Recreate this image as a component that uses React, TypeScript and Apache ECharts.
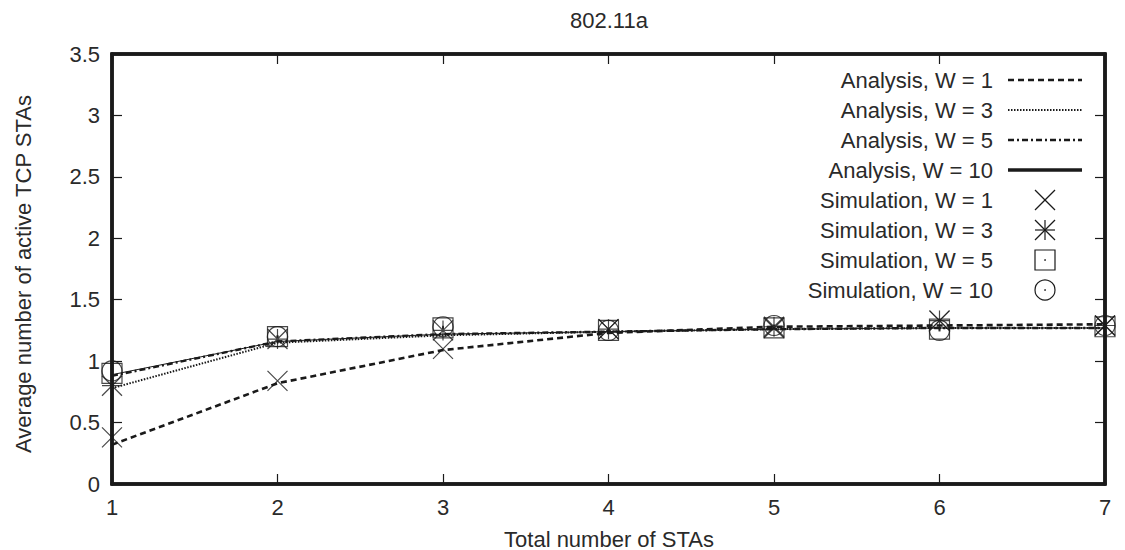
import React, { useEffect, useRef } from "react";
import * as echarts from "echarts";

const stations = [1, 2, 3, 4, 5, 6, 7];
const analysisW1 = [0.32, 0.82, 1.09, 1.23, 1.28, 1.29, 1.30];
const analysisW3 = [0.78, 1.15, 1.21, 1.24, 1.26, 1.27, 1.27];
const analysisW5 = [0.88, 1.16, 1.22, 1.24, 1.26, 1.27, 1.27];
const analysisW10 = [0.89, 1.16, 1.22, 1.24, 1.26, 1.27, 1.27];
const simW1 = [0.38, 0.84, 1.10, 1.26, 1.27, 1.33, 1.29];
const simW3 = [0.80, 1.18, 1.25, 1.26, 1.28, 1.33, 1.29];
const simW5 = [0.90, 1.20, 1.27, 1.25, 1.27, 1.26, 1.28];
const simW10 = [0.92, 1.20, 1.28, 1.25, 1.29, 1.25, 1.29];
const legendLabels = [
  "Analysis, W = 1",
  "Analysis, W = 3",
  "Analysis, W = 5",
  "Analysis, W = 10",
  "Simulation, W = 1",
  "Simulation, W = 3",
  "Simulation, W = 5",
  "Simulation, W = 10",
];

const INK = "#1a1a1a";
const TXT = "#2a2a2a";
const FONT = "Liberation Sans, Arial, sans-serif";
const FS = 22;

const X_PATH = "path://M0,0L10,10M10,0L0,10";
const STAR_PATH = "path://M0,0L10,10M10,0L0,10M5,0L5,10M0,5L10,5";
const SQUARE_PATH = "path://M0,0H10V10H0ZM4.8,4.8H5.2V5.2H4.8Z";
const CIRCLE_PATH = "path://M5,0A5,5,0,1,1,4.999,0ZM4.8,4.8H5.2V5.2H4.8Z";

const lineStyles = [
  { type: [6, 4], width: 2.6 },
  { type: [1.5, 1.5], width: 2 },
  { type: [6, 3, 2, 3], width: 2.4 },
  { type: "solid", width: 1 },
];

function toPts(arr: number[]) {
  return stations.map((x, i) => [x, arr[i]]);
}

function axLine() {
  return { show: true, onZero: false, lineStyle: { color: INK, width: 3.5 } };
}
function axTick() {
  return { show: true, inside: true, length: 10, lineStyle: { color: INK, width: 1.2 } };
}

export default function App() {
  const ref = useRef<HTMLDivElement>(null);
  useEffect(() => {
    if (!ref.current) return;
    const chart = echarts.init(ref.current, null, { renderer: "svg" });

    const L = 112, R = 1105, T = 54, B = 484;
    const legX = 993, lineX1 = 1008, lineX2 = 1082, mkX = 1045;
    const rows = [80, 110, 140, 170, 200, 230, 260, 290];

    const graphic: any[] = [];
    legendLabels.forEach((t, i) => {
      graphic.push({
        type: "text",
        x: legX,
        y: rows[i],
        style: { text: t, fill: TXT, font: `${FS}px ${FONT}`, textAlign: "right", textVerticalAlign: "middle" },
      });
    });
    const legLineStyles = [
      { lineDash: [6, 4], lineWidth: 2.6 },
      { lineDash: [1.5, 1.5], lineWidth: 2 },
      { lineDash: [6, 3, 2, 3], lineWidth: 2.4 },
      { lineDash: null, lineWidth: 3.5 },
    ];
    legLineStyles.forEach((s, i) => {
      graphic.push({
        type: "line",
        shape: { x1: lineX1, y1: rows[i], x2: lineX2, y2: rows[i] },
        style: { stroke: INK, lineWidth: s.lineWidth, lineDash: s.lineDash },
      });
    });
    const h = 10;
    const mk = { stroke: INK, lineWidth: 1.2, fill: "none" };
    graphic.push({ type: "line", shape: { x1: mkX - h, y1: rows[4] - h, x2: mkX + h, y2: rows[4] + h }, style: mk });
    graphic.push({ type: "line", shape: { x1: mkX + h, y1: rows[4] - h, x2: mkX - h, y2: rows[4] + h }, style: mk });
    graphic.push({ type: "line", shape: { x1: mkX - h, y1: rows[5] - h, x2: mkX + h, y2: rows[5] + h }, style: mk });
    graphic.push({ type: "line", shape: { x1: mkX + h, y1: rows[5] - h, x2: mkX - h, y2: rows[5] + h }, style: mk });
    graphic.push({ type: "line", shape: { x1: mkX, y1: rows[5] - h, x2: mkX, y2: rows[5] + h }, style: mk });
    graphic.push({ type: "line", shape: { x1: mkX - h, y1: rows[5], x2: mkX + h, y2: rows[5] }, style: mk });
    graphic.push({ type: "rect", shape: { x: mkX - h, y: rows[6] - h, width: 2 * h, height: 2 * h }, style: mk });
    graphic.push({ type: "circle", shape: { cx: mkX, cy: rows[6], r: 0.8 }, style: { fill: INK } });
    graphic.push({ type: "circle", shape: { cx: mkX, cy: rows[7], r: h }, style: mk });
    graphic.push({ type: "circle", shape: { cx: mkX, cy: rows[7], r: 0.8 }, style: { fill: INK } });

    graphic.push({
      type: "text",
      x: 609,
      y: 20,
      style: { text: "802.11a", fill: TXT, font: `${FS}px ${FONT}`, textAlign: "center", textVerticalAlign: "middle" },
    });
    graphic.push({
      type: "text",
      x: 609,
      y: 539,
      style: { text: "Total number of STAs", fill: TXT, font: `${FS}px ${FONT}`, textAlign: "center", textVerticalAlign: "middle" },
    });
    graphic.push({
      type: "text",
      x: 23,
      y: 274,
      rotation: Math.PI / 2,
      style: { text: "Average number of active TCP STAs", fill: TXT, font: `${FS}px ${FONT}`, textAlign: "center", textVerticalAlign: "middle" },
    });

    const analysisSets = [analysisW1, analysisW3, analysisW5, analysisW10];
    const lineSeries = [3, 2, 1, 0].map((idx) => ({
      type: "line",
      name: legendLabels[idx],
      data: toPts(analysisSets[idx]),
      showSymbol: false,
      symbol: "none",
      lineStyle: { color: INK, type: lineStyles[idx].type, width: lineStyles[idx].width },
      z: 2,
    }));
    const simSets = [simW1, simW3, simW5, simW10];
    const simSymbols = [X_PATH, STAR_PATH, SQUARE_PATH, CIRCLE_PATH];
    const scatterSeries = simSets.map((arr, i) => ({
      type: "scatter",
      name: legendLabels[4 + i],
      data: toPts(arr),
      symbol: simSymbols[i],
      symbolSize: 20,
      itemStyle: { color: "rgba(0,0,0,0)", borderColor: INK, borderWidth: 1.2 },
      z: 3,
    }));

    chart.setOption({
      animation: false,
      backgroundColor: "#fff",
      grid: {
        left: L,
        right: 1125 - R,
        top: T,
        bottom: 550 - B,
        containLabel: false,
        show: true,
        borderColor: INK,
        borderWidth: 3.5,
        backgroundColor: "rgba(0,0,0,0)",
      },
      xAxis: [
        {
          type: "value",
          min: 1,
          max: 7,
          interval: 1,
          axisLine: axLine(),
          axisTick: axTick(),
          splitLine: { show: false },
          axisLabel: { color: TXT, fontFamily: FONT, fontSize: FS, margin: 12 },
        },
        {
          type: "value",
          position: "top",
          min: 1,
          max: 7,
          interval: 1,
          axisLine: axLine(),
          axisTick: axTick(),
          splitLine: { show: false },
          axisLabel: { show: false },
        },
      ],
      yAxis: [
        {
          type: "value",
          min: 0,
          max: 3.5,
          interval: 0.5,
          axisLine: axLine(),
          axisTick: axTick(),
          splitLine: { show: false },
          axisLabel: { color: TXT, fontFamily: FONT, fontSize: FS, margin: 12 },
        },
        {
          type: "value",
          position: "right",
          min: 0,
          max: 3.5,
          interval: 0.5,
          axisLine: axLine(),
          axisTick: axTick(),
          splitLine: { show: false },
          axisLabel: { show: false },
        },
      ],
      graphic,
      series: [...lineSeries, ...scatterSeries],
    });
    return () => chart.dispose();
  }, []);
  return <div ref={ref} style={{ width: 1125, height: 550, position: "absolute", left: 0, top: 0 }} />;
}
